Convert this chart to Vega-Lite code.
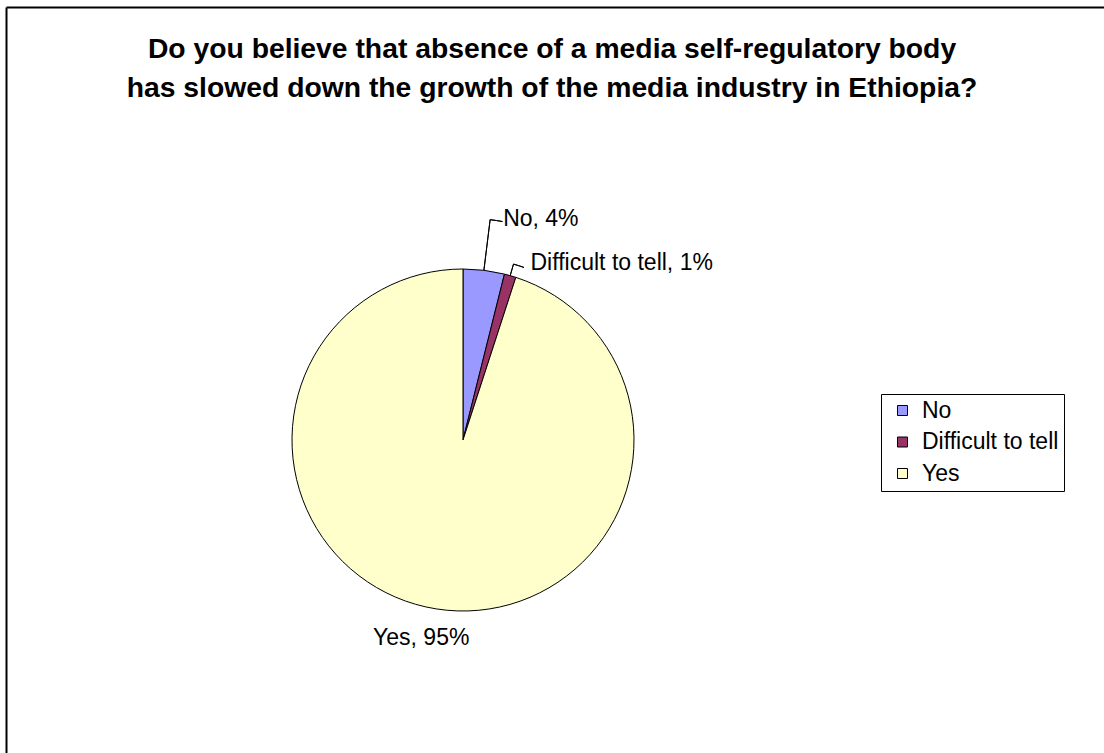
{
  "$schema": "https://vega.github.io/schema/vega-lite/v6.json",
  "width": 1098,
  "height": 746,
  "autosize": {"type": "none"},
  "padding": {"left": 6, "top": 7, "right": 0, "bottom": 0},
  "background": "white",
  "config": {"view": {"stroke": null}, "font": "Liberation Sans"},
  "title": {
    "text": ["Do you believe that absence of a media self-regulatory body", "has slowed down the growth of the media industry in Ethiopia?"],
    "fontSize": 28.3,
    "font": "Liberation Sans",
    "fontWeight": "bold",
    "color": "black",
    "anchor": "middle",
    "frame": "group",
    "offset": -96,
    "dx": -3,
    "lineHeight": 39
  },
  "data": {
    "values": [
      {"category": "No", "value": 3.9},
      {"category": "Difficult to tell", "value": 1.1},
      {"category": "Yes", "value": 95}
    ]
  },
  "transform": [
    {"window": [{"op": "sum", "field": "value", "as": "end"}], "frame": [null, 0]},
    {"calculate": "datum.end - datum.value", "as": "start"},
    {"calculate": "datum.end - datum.value / 2", "as": "mid"},
    {"calculate": "datum.category + ', ' + format(datum.value / 100, '.0%')", "as": "label"}
  ],
  "encoding": {
    "x": {
      "datum": 0.41621,
      "type": "quantitative",
      "scale": {"domain": [0, 1], "nice": false, "zero": false},
      "axis": {"orient": "top", "title": null, "labels": false, "ticks": false, "grid": false, "domain": true, "domainColor": "black", "domainWidth": 2}
    },
    "y": {
      "datum": 0.41957,
      "type": "quantitative",
      "scale": {"domain": [0, 1], "nice": false, "zero": false},
      "axis": {"orient": "left", "title": null, "labels": false, "ticks": false, "grid": false, "domain": true, "domainColor": "black", "domainWidth": 2}
    }
  },
  "layer": [
    {
      "mark": {"type": "arc", "outerRadius": 171, "stroke": "black", "strokeWidth": 1, "opacity": 1},
      "encoding": {
        "theta": {"field": "start", "type": "quantitative", "stack": null, "scale": {"domain": [0, 100]}},
        "theta2": {"field": "end"},
        "color": {
          "field": "category",
          "type": "nominal",
          "scale": {"domain": ["No", "Difficult to tell", "Yes"], "range": ["#9999FF", "#993366", "#FFFFCC"]},
          "legend": {
            "orient": "none",
            "legendX": 875,
            "legendY": 387,
            "title": null,
            "symbolType": "square",
            "symbolSize": 100,
            "symbolStrokeColor": "black",
            "symbolStrokeWidth": 1,
            "symbolOpacity": 1,
            "symbolOffset": 5,
            "labelFontSize": 23,
            "labelFont": "Liberation Sans",
            "labelColor": "black",
            "strokeColor": "black",
            "fillColor": "white",
            "padding": 5,
            "rowPadding": 7.5,
            "labelOffset": 8,
            "labelLimit": 300
          }
        }
      }
    },
    {
      "transform": [{"filter": "datum.category == 'No'"}, {"calculate": "datum.mid + 0.9", "as": "tickEnd"}],
      "layer": [
        {
          "mark": {"type": "arc", "innerRadius": 171, "outerRadius": 222, "stroke": "black", "strokeWidth": 1, "fillOpacity": 0},
          "encoding": {"theta": {"field": "mid", "type": "quantitative", "stack": null}, "theta2": {"field": "mid"}}
        },
        {
          "mark": {"type": "arc", "innerRadius": 222, "outerRadius": 222, "stroke": "black", "strokeWidth": 1, "fillOpacity": 0},
          "encoding": {"theta": {"field": "mid", "type": "quantitative", "stack": null}, "theta2": {"field": "tickEnd"}}
        },
        {
          "mark": {"type": "text", "radius": 222, "align": "left", "baseline": "middle", "dx": 13, "dy": -1, "fontSize": 23, "font": "Liberation Sans", "color": "black"},
          "encoding": {"theta": {"field": "mid", "type": "quantitative", "stack": null}, "text": {"field": "label"}}
        }
      ]
    },
    {
      "transform": [{"filter": "datum.category == 'Difficult to tell'"}, {"calculate": "datum.mid + 0.95", "as": "tickEnd"}],
      "layer": [
        {
          "mark": {"type": "arc", "innerRadius": 171, "outerRadius": 183, "stroke": "black", "strokeWidth": 1, "fillOpacity": 0},
          "encoding": {"theta": {"field": "mid", "type": "quantitative", "stack": null}, "theta2": {"field": "mid"}}
        },
        {
          "mark": {"type": "arc", "innerRadius": 183, "outerRadius": 183, "stroke": "black", "strokeWidth": 1, "fillOpacity": 0},
          "encoding": {"theta": {"field": "mid", "type": "quantitative", "stack": null}, "theta2": {"field": "tickEnd"}}
        },
        {
          "mark": {"type": "text", "radius": 183, "align": "left", "baseline": "middle", "dx": 17, "dy": -1, "fontSize": 23, "font": "Liberation Sans", "color": "black"},
          "encoding": {"theta": {"field": "mid", "type": "quantitative", "stack": null}, "text": {"field": "label"}}
        }
      ]
    },
    {
      "transform": [{"filter": "datum.category == 'Yes'"}],
      "mark": {"type": "text", "radius": 203, "align": "center", "baseline": "middle", "dx": -10, "dy": -3, "fontSize": 23, "font": "Liberation Sans", "color": "black"},
      "encoding": {"theta": {"field": "mid", "type": "quantitative", "stack": null}, "text": {"field": "label"}}
    }
  ]
}
